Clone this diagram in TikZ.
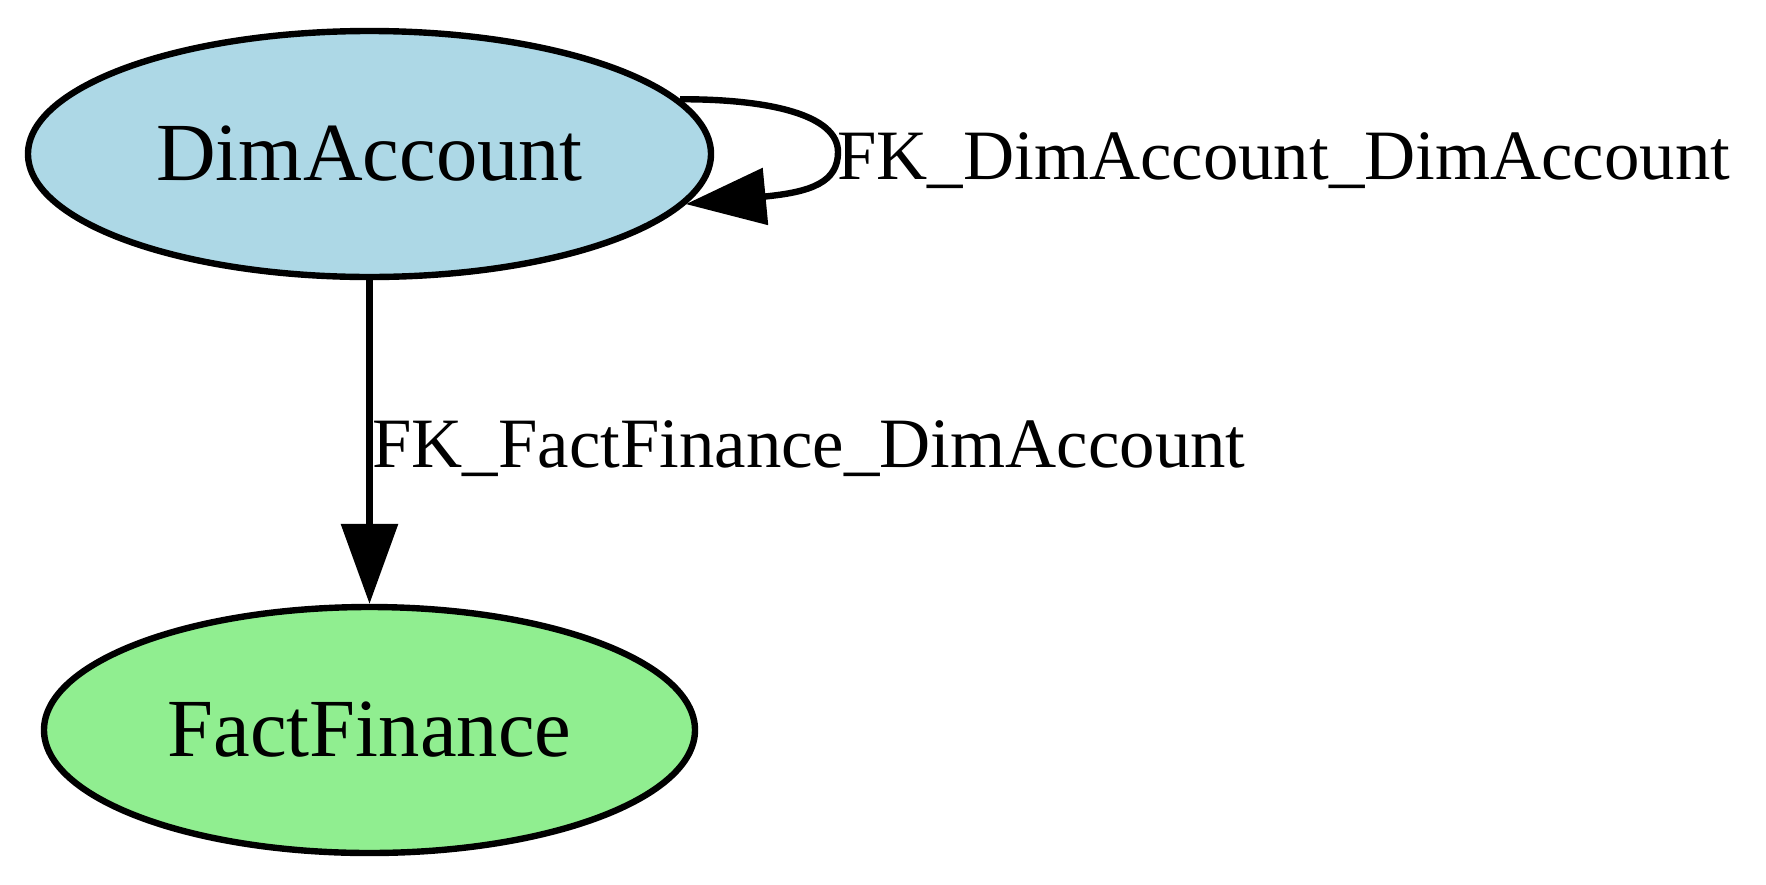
\documentclass[tikz,border=0pt]{standalone}
\usepackage{fontspec}
\setmainfont{Liberation Serif}
\usetikzlibrary{shapes.geometric,arrows.meta}

\definecolor{dimblue}{HTML}{ADD8E6}
\definecolor{factgreen}{HTML}{90EE90}

\tikzset{
  tablenode/.style={ellipse, draw, line width=3.2pt, inner sep=0pt,
    minimum height=123pt, font=\fontsize{41.3}{48}\selectfont},
  fkedge/.style={line width=3.2pt, -{Triangle[length=40pt,width=28pt]}},
  fklabel/.style={inner sep=0pt, anchor=base west, font=\fontsize{35.4}{42}\selectfont},
}

\begin{document}
\begin{tikzpicture}[x=0.5pt,y=-0.5pt]
            \useasboundingbox (0,0) rectangle (1766,884);

            \node[tablenode, fill=dimblue, minimum width=341.5pt] (dim) at (369.5,154) {DimAccount};
            \node[tablenode, fill=factgreen, minimum width=325.5pt] (fact) at (369.5,730) {FactFinance};

            % self reference
            \draw[fkedge] (dim.10) .. controls (770,99) and (838,115) .. (838,152)
                .. controls (838,182) and (812,192) .. (dim.-9.4);
            \node[fklabel] (selflbl) at (837,179) {FK\_DimAccount\_DimAccount};

            \draw[fkedge] (dim) -- (fact);
            \node[fklabel] (factlbl) at (372,467) {FK\_FactFinance\_DimAccount};
        \end{tikzpicture}
\end{document}
